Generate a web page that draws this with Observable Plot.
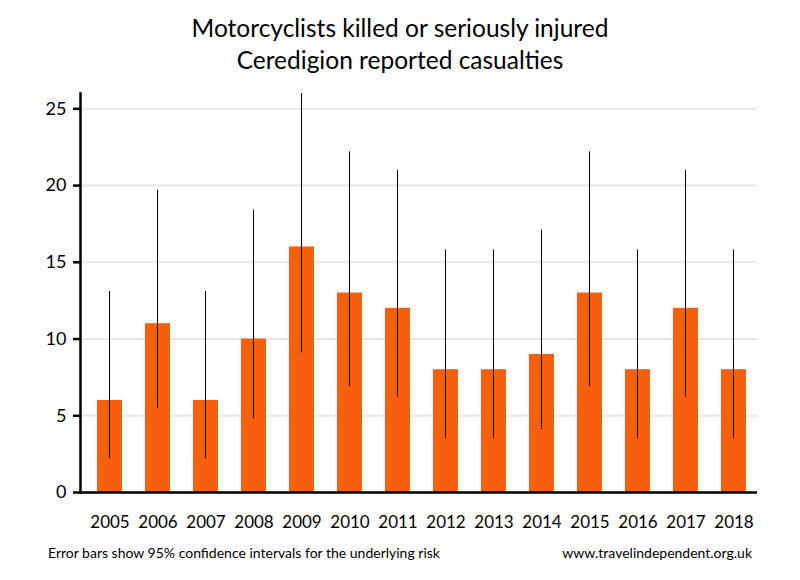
<!DOCTYPE html>
<html>
<head>
<meta charset="utf-8">
<script src="https://cdn.jsdelivr.net/npm/d3@7"></script>
<script src="https://cdn.jsdelivr.net/npm/@observablehq/plot@0.6"></script>
<style>
  body { margin: 0; background: #fff; font-family: Lato, "Open Sans", sans-serif; }
  #wrap { width: 800px; height: 580px; position: relative; }
  .title { height: 80px; text-align: center; font-size: 24.5px; line-height: 32px; color: #000; padding-top: 12px; box-sizing: border-box; }
  .foot { display: flex; justify-content: space-between; padding: 0 48px 0 48px; font-size: 14px; line-height: 26px; color: #000; }
  svg { display: block; }
</style>
</head>
<body>
<div id="wrap">
  <div class="title">Motorcyclists killed or seriously injured<br>Ceredigion reported casualties</div>
  <div id="chart"></div>
  <div class="foot"><span>Error bars show 95% confidence intervals for the underlying risk</span><span>www.travelindependent.org.uk</span></div>
</div>
<script>
const years = ["2005","2006","2007","2008","2009","2010","2011","2012","2013","2014","2015","2016","2017","2018"];
const casualties = [6, 11, 6, 10, 16, 13, 12, 8, 8, 9, 13, 8, 12, 8];
const lower = [2.2, 5.5, 2.2, 4.8, 9.1, 6.9, 6.2, 3.5, 3.5, 4.1, 6.9, 3.5, 6.2, 3.5];
const upper = [13.1, 19.7, 13.1, 18.4, 26.0, 22.2, 21.0, 15.8, 15.8, 17.1, 22.2, 15.8, 21.0, 15.8];
const yTicks = [0, 5, 10, 15, 20, 25];

const data = years.map((y, i) => ({year: y, value: casualties[i], lo: lower[i], hi: upper[i]}));

const chart = Plot.plot({
  width: 800,
  height: 460,
  marginTop: 13,
  marginBottom: 48,
  marginLeft: 80,
  marginRight: 43,
  style: {fontFamily: "Lato, 'Open Sans', sans-serif", fontSize: "17px", color: "#000", background: "#fff"},
  x: {domain: years, paddingInner: 0.479, paddingOuter: 0.2917, align: 0.607, round: false, label: null},
  y: {domain: [0, 26], label: null},
  marks: [
    Plot.gridY(yTicks, {stroke: "#e6e6e6", strokeOpacity: 1, strokeWidth: 2}),
    Plot.barY(data, {x: "year", y: "value", fill: "#f55f0e"}),
    Plot.ruleX(data, {x: "year", y1: "lo", y2: "hi", stroke: "#000", strokeWidth: 1, dx: -0.5}),
    Plot.axisY(yTicks, {tickSize: 7, tickPadding: 7, strokeWidth: 2.5, fontSize: 18, label: null}),
    Plot.axisX({tickSize: 0, tickPadding: 23, fontSize: 17, label: null}),
    Plot.ruleY([0], {stroke: "#000", strokeWidth: 2.5}),
    Plot.frame({anchor: "left", stroke: "#000", strokeWidth: 2.5})
  ]
});
document.getElementById("chart").appendChild(chart);
</script>
</body>
</html>
